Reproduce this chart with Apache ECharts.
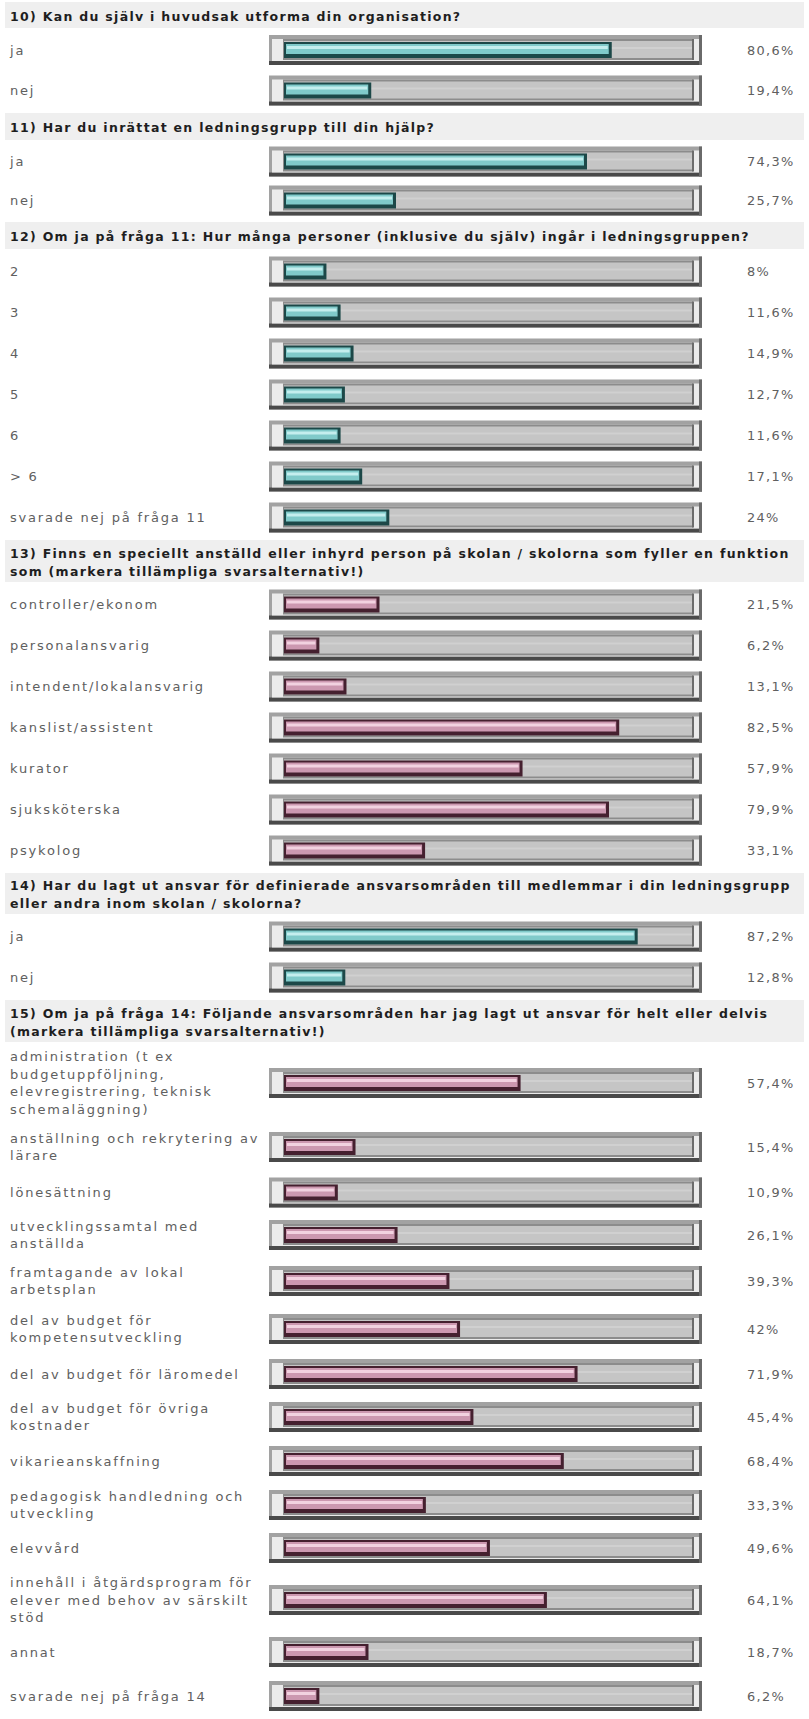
<!DOCTYPE html>
<html><head><meta charset="utf-8">
<script src="https://cdn.jsdelivr.net/npm/echarts/dist/echarts.min.js"></script>
<style>
html,body{margin:0;padding:0;background:#fff}
#c{width:809px;height:1719px}
#c svg text{letter-spacing:1.8px}
#c svg text[style*="bold"]{letter-spacing:1.3px}
#c svg text[style*="12.9px"]{letter-spacing:1.3px}
</style>
</head><body><div id="c"></div>
<script>
// ---------- DATA ----------
const q10Title = "10) Kan du själv i huvudsak utforma din organisation?";
const q10Labels = ["ja", "nej"];
const q10Values = [80.6, 19.4];

const q11Title = "11) Har du inrättat en ledningsgrupp till din hjälp?";
const q11Labels = ["ja", "nej"];
const q11Values = [74.3, 25.7];

const q12Title = "12) Om ja på fråga 11: Hur många personer (inklusive du själv) ingår i ledningsgruppen?";
const q12Labels = ["2", "3", "4", "5", "6", "> 6", "svarade nej på fråga 11"];
const q12Values = [8, 11.6, 14.9, 12.7, 11.6, 17.1, 24];

const q13Title = "13) Finns en speciellt anställd eller inhyrd person på skolan / skolorna som fyller en funktion\nsom (markera tillämpliga svarsalternativ!)";
const q13Labels = ["controller/ekonom", "personalansvarig", "intendent/lokalansvarig", "kanslist/assistent", "kurator", "sjuksköterska", "psykolog"];
const q13Values = [21.5, 6.2, 13.1, 82.5, 57.9, 79.9, 33.1];

const q14Title = "14) Har du lagt ut ansvar för definierade ansvarsområden till medlemmar i din ledningsgrupp\neller andra inom skolan / skolorna?";
const q14Labels = ["ja", "nej"];
const q14Values = [87.2, 12.8];

const q15Title = "15) Om ja på fråga 14: Följande ansvarsområden har jag lagt ut ansvar för helt eller delvis\n(markera tillämpliga svarsalternativ!)";
const q15Labels = [
  "administration (t ex\nbudgetuppföljning,\nelevregistrering, teknisk\nschemaläggning)",
  "anställning och rekrytering av\nlärare",
  "lönesättning",
  "utvecklingssamtal med\nanställda",
  "framtagande av lokal\narbetsplan",
  "del av budget för\nkompetensutveckling",
  "del av budget för läromedel",
  "del av budget för övriga\nkostnader",
  "vikarieanskaffning",
  "pedagogisk handledning och\nutveckling",
  "elevvård",
  "innehåll i åtgärdsprogram för\nelever med behov av särskilt\nstöd",
  "annat",
  "svarade nej på fråga 14"
];
const q15Values = [57.4, 15.4, 10.9, 26.1, 39.3, 42, 71.9, 45.4, 68.4, 33.3, 49.6, 64.1, 18.7, 6.2];

// ---------- LAYOUT / STYLE ----------
const sections = [
  { title: q10Title, labels: q10Labels, values: q10Values, pal: 'teal' },
  { title: q11Title, labels: q11Labels, values: q11Values, pal: 'teal' },
  { title: q12Title, labels: q12Labels, values: q12Values, pal: 'teal' },
  { title: q13Title, labels: q13Labels, values: q13Values, pal: 'pink' },
  { title: q14Title, labels: q14Labels, values: q14Values, pal: 'teal' },
  { title: q15Title, labels: q15Labels, values: q15Values, pal: 'pink' }
];
const headerHeights = [30, 31, 31, 46, 45, 46];
const rowHeights = [
  [40, 41],
  [39, 39],
  [41, 41, 41, 41, 41, 41, 41],
  [41, 41, 41, 41, 41, 41, 41],
  [41, 41],
  [78, 50, 41, 44, 48, 48, 42, 44, 44, 44, 42, 62, 42, 46]
];
const palettes = {
  teal: { edge: '#1c4848', main: '#80caca', hi: '#c4eeee' },
  pink: { edge: '#45202f', main: '#cc98b0', hi: '#f2d2e0' }
};
const FONT = 'DejaVu Sans';
const AX_L = 295, AX_R = 688, W = 809;   // scale 0% .. 100%
const CAP_L = 11, CAP_R = 4;              // track extends past the scale ends

function pct(v) { return String(v).replace('.', ',') + '%'; }

function makeRender(palName) {
  const p = palettes[palName];
  return function (params, api) {
    const v = api.value(0);
    const a = api.coord([0, 0]);
    const b = api.coord([100, 0]);
    const c = api.coord([v, 0]);
    const y = a[1];
    const t0 = a[0] - CAP_L, t1 = b[0] + CAP_R, xv = c[0];
    const tw = t1 - t0, fw = xv - t0;
    const fl = t0 - 15, fr = t1 + 10;
    const r = (x, y_, w, h, fill) => ({ type: 'rect', shape: { x: x, y: y_, width: Math.max(0, w), height: h }, style: { fill: fill } });
    const ch = [
      r(fl, y - 15, fr - fl, 30, '#a2a2a2'),
      r(fl, y + 11, fr - fl, 4, '#4a4a4a'),
      r(fr - 3, y - 15, 3, 30, '#6a6a6a'),
      r(fl + 3, y - 11, fr - fl - 6, 22, '#ebebeb'),
      r(t0 - 1, y - 11, tw + 2, 21, '#8c8c8c'),
      r(t0, y - 9, tw, 17, '#c5c5c5'),
      r(t0, y - 3, tw, 2, '#d0d0d0'),
      r(t1, y - 11, 2, 21, '#6c6c6c'),
      r(t0, y - 8, fw, 16, p.edge),
      r(t0 + 2, y - 6, fw - 5, 10, p.main),
      r(t0 + 3, y - 4, fw - 7, 3, p.hi)
    ];
    return { type: 'group', children: ch };
  };
}

const grids = [], xAxes = [], yAxes = [], series = [], graphics = [];
let yPos = 0;
sections.forEach((s, si) => {
  const hh = headerHeights[si];
  graphics.push({ type: 'rect', left: 5, top: yPos + 2, shape: { width: 799, height: hh - 4 }, style: { fill: '#efefef' }, silent: true });
  graphics.push({ type: 'text', left: 10, top: yPos + hh / 2 - (s.title.split('\n').length * 18) / 2 + 1,
    style: { text: s.title, font: 'bold 12.5px "' + FONT + '"', fill: '#1e1e1e', lineHeight: 18 }, silent: true });
  yPos += hh;
  s.labels.forEach((lab, li) => {
    const h = rowHeights[si][li];
    const gi = grids.length;
    grids.push({ left: AX_L, right: W - AX_R, top: yPos, height: h });
    xAxes.push({ type: 'value', gridIndex: gi, min: 0, max: 100, show: false });
    yAxes.push({ type: 'category', gridIndex: gi, data: [lab], position: 'left',
      axisLine: { show: false }, axisTick: { show: false }, splitLine: { show: false },
      axisLabel: { show: true, align: 'left', margin: AX_L - 10, color: '#606060', fontFamily: FONT, fontSize: 13, lineHeight: 17.5 } });
    yAxes.push({ type: 'category', gridIndex: gi, data: [pct(s.values[li])], position: 'right',
      axisLine: { show: false }, axisTick: { show: false }, splitLine: { show: false },
      axisLabel: { show: true, align: 'left', margin: 747 - AX_R, color: '#606060', fontFamily: FONT, fontSize: 12.9 } });
    series.push({ type: 'custom', xAxisIndex: gi, yAxisIndex: 2 * gi, clip: false,
      renderItem: makeRender(s.pal), encode: { x: 0, y: 1 }, data: [[s.values[li], 0]] });
    yPos += h;
  });
});

const chart = echarts.init(document.getElementById('c'), null, { renderer: 'svg' });
chart.setOption({
  animation: false,
  backgroundColor: '#ffffff',
  grid: grids, xAxis: xAxes, yAxis: yAxes, series: series,
  graphic: graphics
});
</script>
</body></html>
